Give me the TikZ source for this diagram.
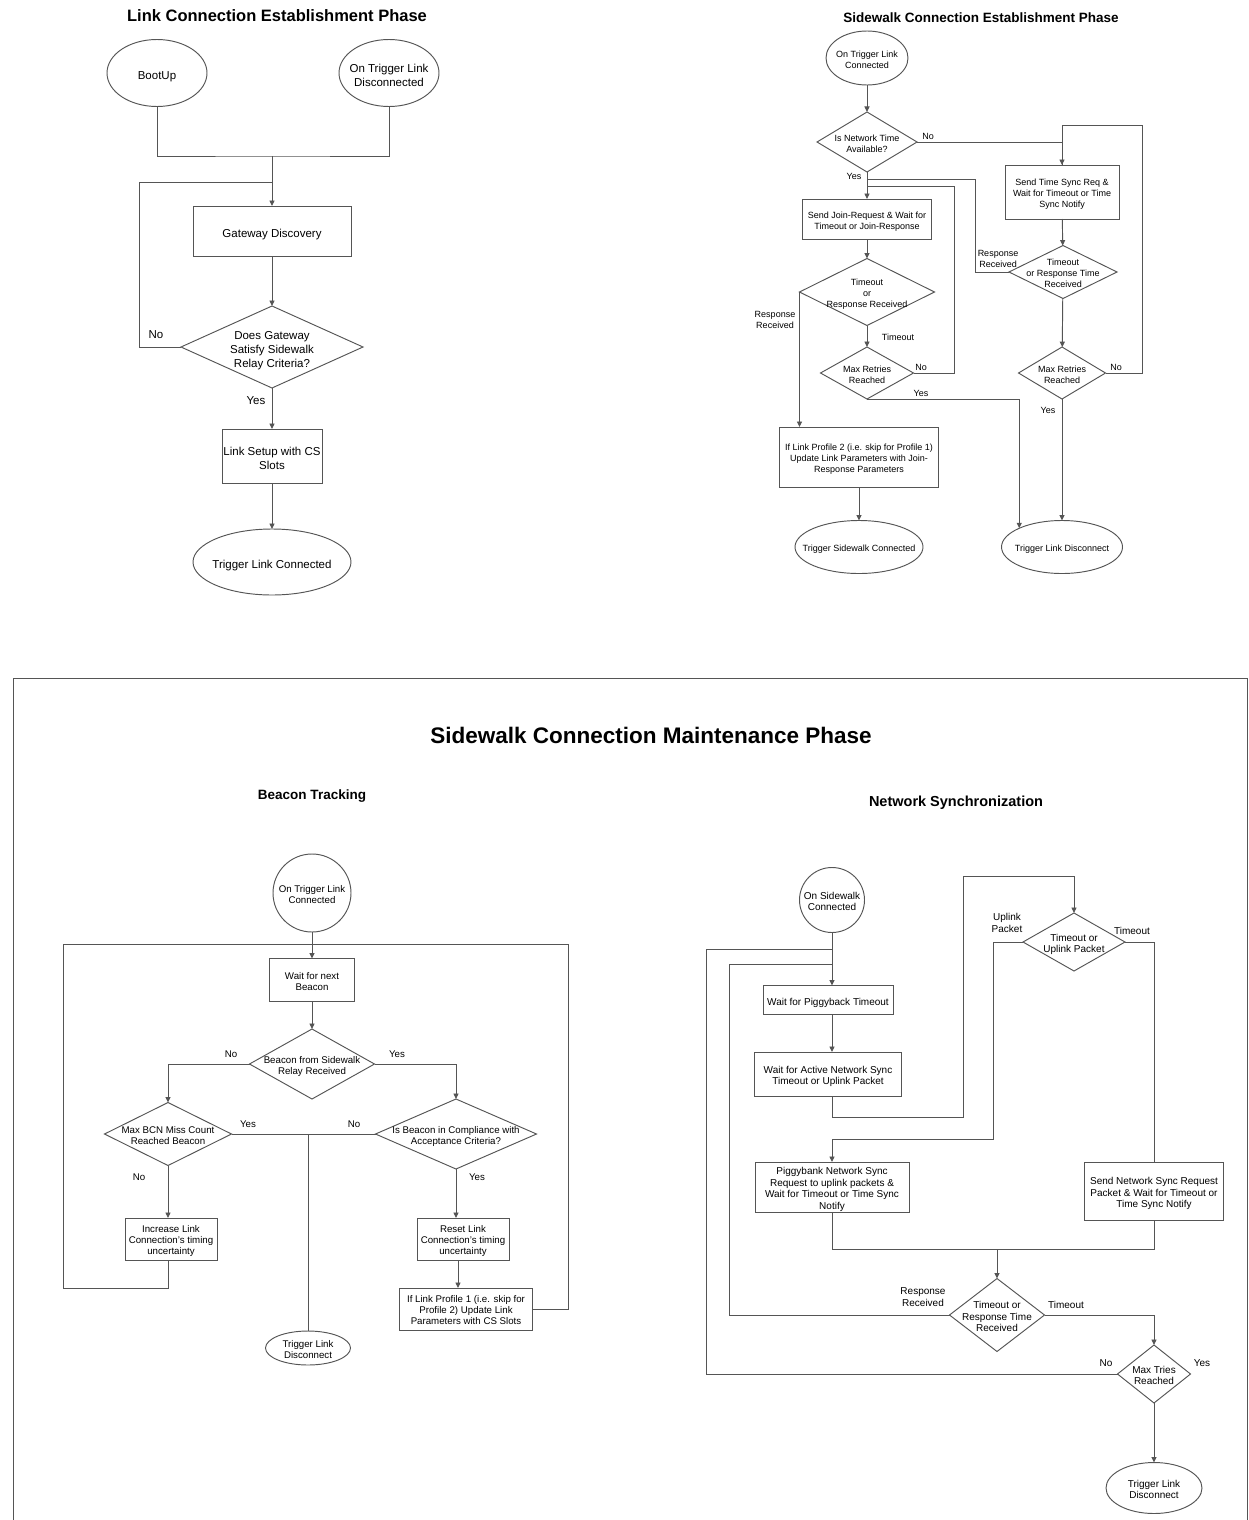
\documentclass[tikz,border=0pt]{standalone}
\usepackage{fontspec}
\setmainfont{Liberation Sans}
\usepackage{tikz}
\usetikzlibrary{arrows.meta,shapes.geometric}
\definecolor{linegray}{HTML}{555555}
\newcommand{\ctr}[1]{\raisebox{-0.54em}[0pt][0pt]{\makebox[0pt]{\begin{tabular}{@{}c@{}}#1\end{tabular}}}}
\tikzset{
  shp/.style={draw=linegray,line width=0.95pt,inner sep=0pt,outer sep=0pt},
  box/.style={shp,rectangle},
  dec/.style={shp,diamond},
  term/.style={shp,ellipse},
  circ/.style={shp,circle},
  conn/.style={draw=linegray,line width=0.95pt},
  arr/.style={conn,-{Triangle[length=5.5pt,width=5pt]}},
  lbl/.style={inner sep=0pt},
  ttl/.style={inner sep=0pt,font=\bfseries\fontsize{#1}{#1}\selectfont},
}

\begin{document}
\begin{tikzpicture}[x=1pt,y=-1pt]
  \useasboundingbox (0,0) rectangle (1248,1520);

  \begin{scope}[font=\fontsize{11.5}{14}\selectfont]
  \node[ttl=16.5] (lcetitle) at (277,16) {Link Connection Establishment Phase};
  \node[term,minimum width=100,minimum height=67] (bootup) at (157,73) {\ctr{BootUp}};
  \node[term,minimum width=100,minimum height=67] (ontrigdisc) at (389,73) {\ctr{On Trigger Link\\Disconnected}};
  \coordinate (lcemerge) at (272,156);
  \coordinate (lceloop) at (272,182);
  \draw[conn] (bootup.south) |- (lcemerge) -| (ontrigdisc.south);
  \node[box,minimum width=158,minimum height=50] (gwdisc) at (272,231) {\ctr{Gateway Discovery}};
  \draw[arr] (lcemerge) -- (gwdisc.north);
  \node[dec,minimum width=182,minimum height=82] (gwcrit) at (272,347) {\ctr{Does Gateway\\Satisfy Sidewalk\\Relay Criteria?}};
  \draw[arr] (gwdisc) -- (gwcrit);
  \draw[conn] (gwcrit.west) -- ++(-42,0) |- (lceloop);
  \node[lbl] (lceno) at (156,335) {No};
  \node[box,minimum width=100,minimum height=54] (lsetup) at (272,456) {\ctr{Link Setup with CS\\Slots}};
  \draw[arr] (gwcrit) -- (lsetup);
  \node[lbl] (lceyes) at (256,401) {Yes};
  \node[term,minimum width=158,minimum height=66] (tlconn) at (272,562) {\ctr{Trigger Link Connected}};
  \draw[arr] (lsetup) -- (tlconn);
  \end{scope}

  \begin{scope}[font=\fontsize{9}{10.8}\selectfont]
  \node[ttl=13.5] (scetitle) at (981,18) {Sidewalk Connection Establishment Phase};
  \node[term,minimum width=82,minimum height=54] (swtlc) at (867,58) {\ctr{On Trigger Link\\Connected}};
  \node[dec,minimum width=100,minimum height=60] (nettime) at (867,142) {\ctr{Is Network Time\\Available?}};
  \draw[arr] (swtlc) -- (nettime);
  \node[box,minimum width=114,minimum height=54] (tsreq) at (1062,192) {\ctr{Send Time Sync Req \&\\Wait for Timeout or Time\\Sync Notify}};
  \coordinate (tstop) at (1062,125);
  \draw[arr] (nettime.east) -| (tsreq.north);
  \node[lbl] (ntno) at (928,136) {No};
  \node[dec,minimum width=108,minimum height=53] (tsresp) at (1063,272) {\ctr{Timeout\\or Response Time\\Received}};
  \draw[arr] (tsreq) -- (tsresp);
  \node[dec,minimum width=87,minimum height=52] (maxr2) at (1062,373) {\ctr{Max Retries\\Reached}};
  \draw[arr] (tsresp) -- (maxr2);
  \draw[conn] (maxr2.east) -- ++(37,0) |- (tstop) -- (tsreq.north);
  \node[lbl] (mr2no) at (1116,367) {No};
  \node[lbl] (mr2yes) at (1048,410) {Yes};
  \node[term,minimum width=121,minimum height=53] (swdisc) at (1062,547) {\ctr{Trigger Link Disconnect}};
  \draw[arr] (maxr2) -- (swdisc);
  \node[box,minimum width=129,minimum height=40] (joinreq) at (867,219) {\ctr{Send Join-Request \& Wait for\\Timeout or Join-Response}};
  \draw[arr] (nettime.south) -- (joinreq.north);
  \node[lbl] (ntyes) at (854,176) {Yes};
  \coordinate (yesj) at (867,179);
  \coordinate (yesj2) at (867,186);
  \draw[conn] (tsresp.west) -- ++(-34,0) |- (yesj);
  \node[lbl,align=center] (tsrr) at (998,259) {Response\\Received};
  \node[dec,minimum width=135,minimum height=67] (joinresp) at (867,292) {\ctr{Timeout\\or\\Response Received}};
  \draw[arr] (joinreq) -- (joinresp);
  \node[dec,minimum width=93,minimum height=52] (maxr1) at (867,373) {\ctr{Max Retries\\Reached}};
  \draw[arr] (joinresp) -- (maxr1);
  \node[lbl] (jrto) at (898,337) {Timeout};
  \draw[conn] (maxr1.east) -- ++(41,0) |- (yesj2);
  \node[lbl] (mr1no) at (921,367) {No};
  \node[box,minimum width=159,minimum height=60] (joinparam) at (859,457) {\ctr{If Link Profile 2 (i.e. skip for Profile 1)\\Update Link Parameters with Join-\\Response Parameters}};
  \draw[arr] (joinresp.west) -- (joinresp.west |- joinparam.north);
  \node[lbl,align=center] (jrrr) at (775,320) {Response\\Received};
  \node[term,minimum width=128,minimum height=53] (swconn) at (859,547) {\ctr{Trigger Sidewalk Connected}};
  \draw[arr] (joinparam) -- (swconn);
  \draw[arr] (maxr1.south) -| (swdisc.north west);
  \node[lbl] (mr1yes) at (921,393) {Yes};
  \end{scope}

  \draw[conn] (13,1520) -- (13,678) -- (1247,678) -- (1247,1520);
  \node[ttl=22.5] (scmtitle) at (651,735) {Sidewalk Connection Maintenance Phase};

  \begin{scope}[font=\fontsize{9.7}{11}\selectfont]
  \node[ttl=13.5] (bttitle) at (312,796) {Beacon Tracking};
  \node[circ,minimum size=78] (bton) at (312,893) {\ctr{On Trigger Link\\Connected}};
  \coordinate (btloop) at (312,944);
  \node[box,minimum width=85,minimum height=43] (btwait) at (312,980) {\ctr{Wait for next\\Beacon}};
  \draw[arr] (bton) -- (btwait);
  \node[dec,minimum width=125,minimum height=70] (btrecv) at (312,1064) {\ctr{Beacon from Sidewalk\\Relay Received}};
  \draw[arr] (btwait) -- (btrecv);
  \node[dec,minimum width=127,minimum height=63] (btmiss) at (168,1134) {\ctr{Max BCN Miss Count\\Reached Beacon}};
  \node[dec,minimum width=161,minimum height=70] (btcomp) at (456,1134) {\ctr{Is Beacon in Compliance with\\Acceptance Criteria?}};
  \draw[arr] (btrecv.west) -| (btmiss.north);
  \draw[arr] (btrecv.east) -| (btcomp.north);
  \node[lbl] (btrno) at (231,1054) {No};
  \node[lbl] (btryes) at (397,1054) {Yes};
  \node[box,minimum width=92,minimum height=42] (btinc) at (171,1239) {\ctr{Increase Link\\Connection's timing\\uncertainty}};
  \draw[arr] (btmiss.south) -- (btmiss.south |- btinc.north);
  \node[lbl] (btmno) at (139,1177) {No};
  \node[box,minimum width=92,minimum height=42] (btreset) at (463,1239) {\ctr{Reset Link\\Connection's timing\\uncertainty}};
  \draw[arr] (btcomp.south) -- (btcomp.south |- btreset.north);
  \node[lbl] (btcyes) at (477,1177) {Yes};
  \node[box,minimum width=133,minimum height=42] (btparam) at (466,1309) {\ctr{If Link Profile 1 (i.e. skip for\\Profile 2) Update Link\\Parameters with CS Slots}};
  \draw[arr] ([xshift=-5pt]btreset.south) -- ([xshift=-5pt]btreset.south |- btparam.north);
  \node[term,minimum width=85,minimum height=34] (btdisc) at (308,1348) {\ctr{Trigger Link\\Disconnect}};
  \coordinate (btjoin) at (308,1134);
  \draw[conn] (btmiss.east) -- (btcomp.west);
  \draw[conn] (btjoin) -- (btdisc.north);
  \node[lbl] (btmyes) at (248,1124) {Yes};
  \node[lbl] (btcno) at (354,1124) {No};
  \draw[conn] ([xshift=-3pt]btinc.south) |- ++(-105,28) |- (btloop);
  \draw[conn] (btparam.east) -- ++(36,0) |- (btloop);
  \end{scope}

  \begin{scope}[font=\fontsize{10}{11.5}\selectfont]
  \node[ttl=14.5] (nstitle) at (956,803) {Network Synchronization};
  \node[circ,minimum size=65] (nson) at (832,900) {\ctr{On Sidewalk\\Connected}};
  \coordinate (nsloopa) at (832,949);
  \coordinate (nsloopb) at (832,964);
  \node[box,minimum width=130,minimum height=29] (nspig) at (828,1000) {\ctr{Wait for Piggyback Timeout}};
  \draw[arr] (nson.south) -- (nson.south |- nspig.north);
  \node[box,minimum width=147,minimum height=44] (nsactive) at (828,1074) {\ctr{Wait for Active Network Sync\\Timeout or Uplink Packet}};
  \draw[arr] (nson.south |- nspig.south) -- (nson.south |- nsactive.north);
  \node[dec,minimum width=102,minimum height=58] (nsup) at (1074,942) {\ctr{Timeout or\\Uplink Packet}};
  \draw[arr] (nson.south |- nsactive.south) |- ++(131,21) |- ++(111,-241) -- (nsup.north);
  \node[lbl,align=center] (nsupl) at (1007,923) {Uplink\\Packet};
  \node[lbl] (nsupto) at (1132,931) {Timeout};
  \node[box,minimum width=154,minimum height=50] (nspiggy) at (832,1187) {\ctr{Piggybank Network Sync\\Request to uplink packets \&\\Wait for Timeout or Time Sync\\Notify}};
  \draw[arr] (nsup.west) -- ++(-30,0) |- ++(-161,197) -- (nspiggy.north);
  \node[box,minimum width=139,minimum height=58] (nsreq) at (1154,1191) {\ctr{Send Network Sync Request\\Packet \& Wait for Timeout or\\Time Sync Notify}};
  \draw[conn] (nsup.east) -| (nsreq.north);
  \coordinate (nsmerge) at (997,1249);
  \draw[conn] (nspiggy.south) |- (nsmerge) -| (nsreq.south);
  \node[dec,minimum width=95,minimum height=73] (nsresp) at (997,1315) {\ctr{Timeout or\\Response Time\\Received}};
  \draw[arr] (nsmerge) -- (nsresp.north);
  \node[lbl,align=center] (nsrr) at (923,1297) {Response\\Received};
  \node[lbl] (nsrto) at (1066,1305) {Timeout};
  \node[dec,minimum width=73,minimum height=58] (nsmax) at (1154,1374) {\ctr{Max Tries\\Reached}};
  \draw[arr] (nsresp.east) -| (nsmax.north);
  \draw[conn] (nsresp.west) -- ++(-220,0) |- (nsloopb);
  \draw[conn] (nsmax.west) -- ++(-411,0) |- (nsloopa);
  \node[lbl] (nsmno) at (1106,1363) {No};
  \node[lbl] (nsmyes) at (1202,1363) {Yes};
  \node[term,minimum width=96,minimum height=51] (nsdisc) at (1154,1488) {\ctr{Trigger Link\\Disconnect}};
  \draw[arr] (nsmax) -- (nsdisc);
  \end{scope}
\end{tikzpicture}
\end{document}
